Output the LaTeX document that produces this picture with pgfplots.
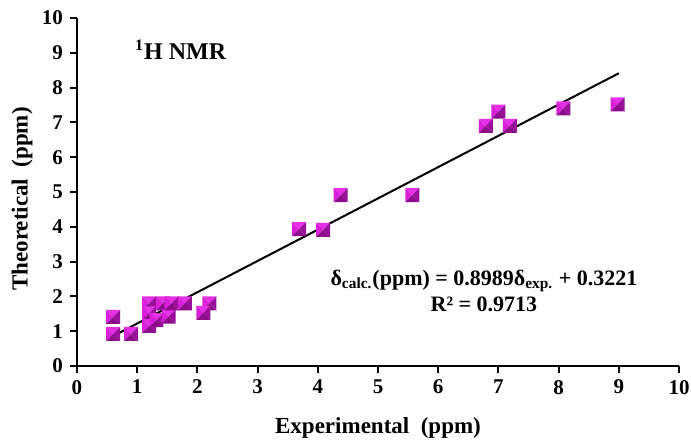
\documentclass[border=0pt]{standalone}
\usepackage{fontspec}
\setmainfont{Liberation Serif}
\usepackage{pgfplots}
\pgfplotsset{compat=1.18}

\definecolor{magtop}{HTML}{E530E5}
\definecolor{magside}{HTML}{D820D8}
\definecolor{magdark}{HTML}{8C0C8C}
\definecolor{magmid}{HTML}{9A109A}

% beveled square marker like the Excel one
\pgfdeclareplotmark{pyr}{%
  \pgfpathmoveto{\pgfqpoint{-\pgfplotmarksize}{\pgfplotmarksize}}%
  \pgfpathlineto{\pgfqpoint{\pgfplotmarksize}{\pgfplotmarksize}}%
  \pgfpathlineto{\pgfqpoint{0pt}{0pt}}\pgfpathclose
  \pgfsetfillcolor{magtop}\pgfusepath{fill}%
  \pgfpathmoveto{\pgfqpoint{-\pgfplotmarksize}{\pgfplotmarksize}}%
  \pgfpathlineto{\pgfqpoint{-\pgfplotmarksize}{-\pgfplotmarksize}}%
  \pgfpathlineto{\pgfqpoint{0pt}{0pt}}\pgfpathclose
  \pgfsetfillcolor{magside}\pgfusepath{fill}%
  \pgfpathmoveto{\pgfqpoint{\pgfplotmarksize}{\pgfplotmarksize}}%
  \pgfpathlineto{\pgfqpoint{\pgfplotmarksize}{-\pgfplotmarksize}}%
  \pgfpathlineto{\pgfqpoint{0pt}{0pt}}\pgfpathclose
  \pgfsetfillcolor{magmid}\pgfusepath{fill}%
  \pgfpathmoveto{\pgfqpoint{-\pgfplotmarksize}{-\pgfplotmarksize}}%
  \pgfpathlineto{\pgfqpoint{\pgfplotmarksize}{-\pgfplotmarksize}}%
  \pgfpathlineto{\pgfqpoint{0pt}{0pt}}\pgfpathclose
  \pgfsetfillcolor{magdark}\pgfusepath{fill}%
}

\begin{document}
\begin{tikzpicture}
\begin{axis}[
  at={(0,0)}, anchor=south west,
  scale only axis,
  width=301pt, height=174pt,
  xmin=0, xmax=10, ymin=0, ymax=10,
  xtick={0,1,...,10}, ytick={0,1,...,10},
  axis x line*=bottom, axis y line*=left,
  axis line style={line width=1pt, -},
  tick style={line width=1pt, black},
  tick align=outside,
  major tick length=3.5pt,
  ticklabel style={font=\fontsize{10.5}{12}\selectfont\bfseries},
  /pgf/number format/assume math mode=true,
  xlabel={Experimental\ \ (ppm)},
  ylabel={Theoretical\ \ (ppm)},
  label style={font=\fontsize{11.5}{13}\selectfont\bfseries},
  xlabel style={at={(axis description cs:0.5,0)}, anchor=center, yshift=-31pt},
  ylabel style={at={(axis description cs:0,0.48)}, anchor=center, yshift=27.5pt},
  clip=false,
]
\addplot[only marks, mark=pyr, mark size=3.5pt] coordinates {
  (0.6,1.41) (0.6,0.92) (0.9,0.92)
  (1.2,1.8) (1.2,1.51) (1.2,1.15) (1.32,1.32)
  (1.43,1.8) (1.52,1.42) (1.57,1.8) (1.79,1.8)
  (2.2,1.8) (2.1,1.53)
  (3.69,3.93) (4.09,3.91) (4.38,4.91) (5.57,4.91)
  (6.79,6.9) (7.0,7.31) (7.19,6.9) (8.08,7.4) (8.98,7.52)
};
\addplot[black, line width=1pt] coordinates {(0.6,0.8614) (9,8.4122)};
\node[anchor=west, font=\fontsize{12}{14}\selectfont\bfseries] at (axis cs:0.85,9.08) {\textsuperscript{1}H NMR};
\node[font=\fontsize{11}{12}\selectfont\bfseries, align=center] at (axis cs:6.76,2.16)
  {δ\textsubscript{calc.}(ppm) = 0.8989δ\textsubscript{exp.} + 0.3221\\[1pt]R² = 0.9713};
\end{axis}
\pgfresetboundingbox
\path[use as bounding box] (-38.5pt,-37pt) rectangle (307pt,183pt);
\end{tikzpicture}
\end{document}
